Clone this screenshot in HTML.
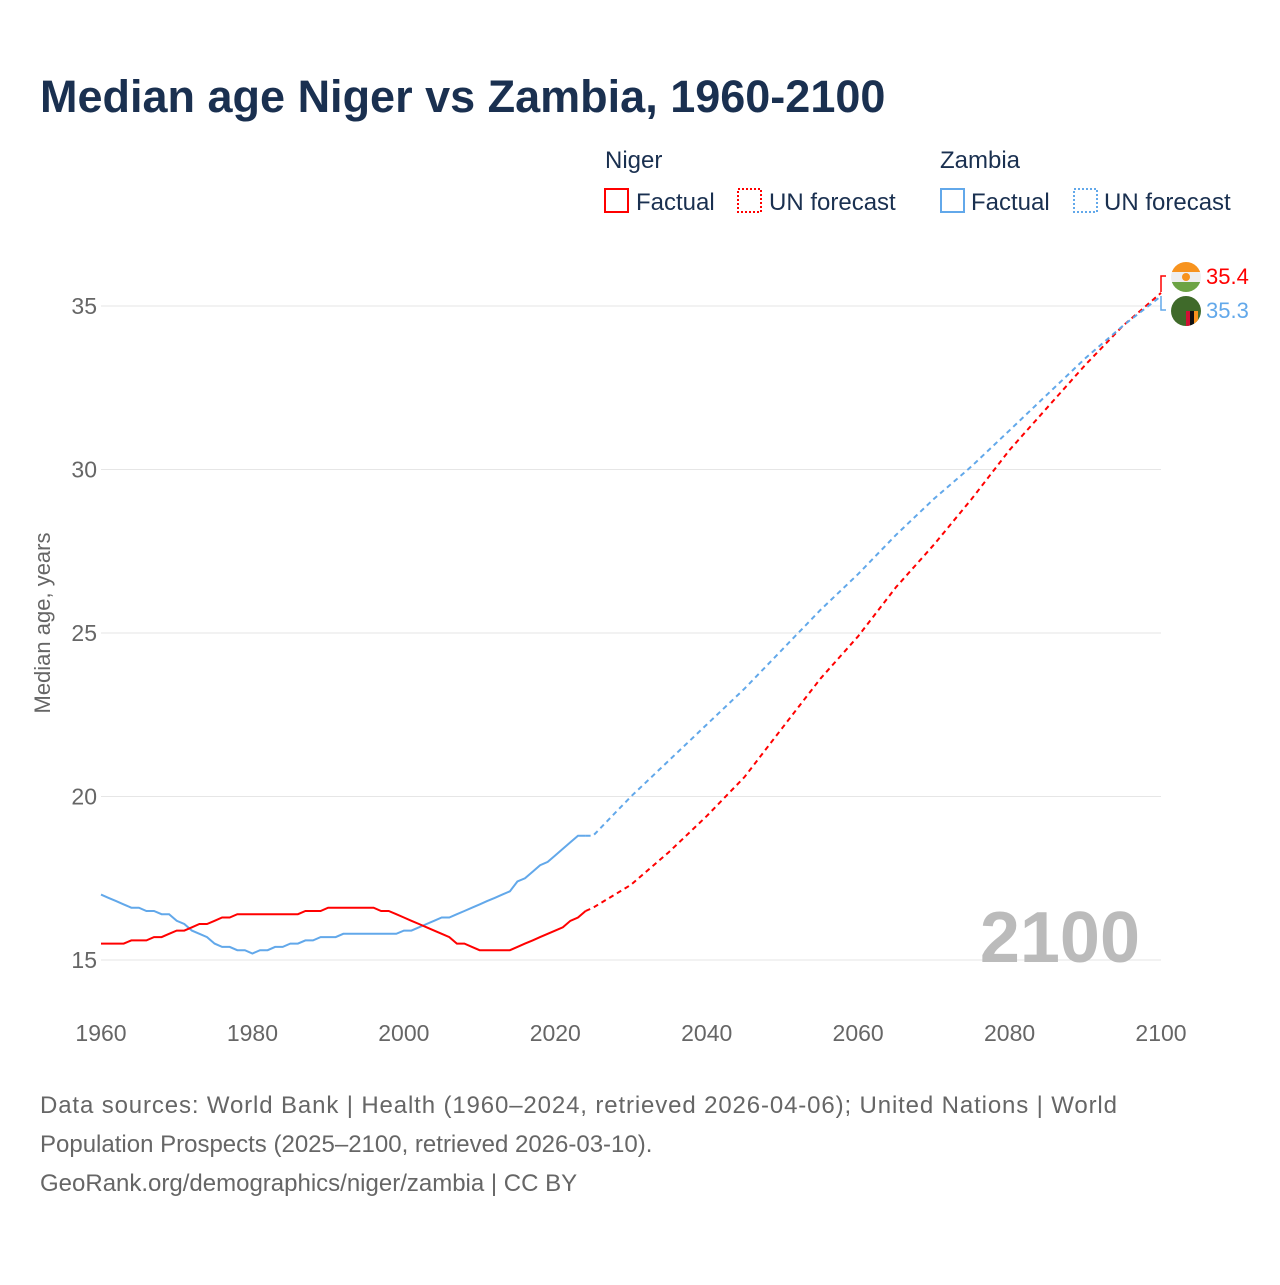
<!DOCTYPE html>
<html><head><meta charset="utf-8"><style>
body{margin:0;background:#fff;font-family:"Liberation Sans",sans-serif}
svg text{font-family:"Liberation Sans",sans-serif}
</style></head><body>
<svg width="1280" height="1280" xmlns="http://www.w3.org/2000/svg">
<text x="40" y="112" font-size="45" font-weight="bold" fill="#1a3050">Median age Niger vs Zambia, 1960-2100</text>
<g font-size="24" fill="#1a3050">
<text x="605" y="168">Niger</text>
<text x="940" y="168">Zambia</text>
<rect x="605" y="189" width="23" height="23" fill="none" stroke="#f00" stroke-width="2"/>
<text x="636" y="210">Factual</text>
<rect x="738" y="189" width="23" height="23" fill="none" stroke="#f00" stroke-width="2" stroke-dasharray="2,2"/>
<text x="769" y="210">UN forecast</text>
<rect x="941" y="189" width="23" height="23" fill="none" stroke="#62a8ea" stroke-width="2"/>
<text x="971" y="210">Factual</text>
<rect x="1074" y="189" width="23" height="23" fill="none" stroke="#62a8ea" stroke-width="2" stroke-dasharray="2,2"/>
<text x="1104" y="210">UN forecast</text>
</g>
<g id="grid"></g>
<text x="1140" y="962" font-size="72" font-weight="bold" fill="#bbb" text-anchor="end">2100</text>
<text transform="translate(50,623) rotate(-90)" font-size="22" fill="#666" text-anchor="middle">Median age, years</text>
<g id="lines"></g>
<g>
<path d="M1161 292 V276 H1166" fill="none" stroke="#f00" stroke-width="1.5"/>
<path d="M1161 296 V310 H1166" fill="none" stroke="#62a8ea" stroke-width="1.5"/>
<g>
<clipPath id="cn"><circle cx="1186" cy="277" r="15"/></clipPath>
<g clip-path="url(#cn)"><rect x="1170" y="262" width="32" height="10" fill="#f7931e"/><rect x="1170" y="272" width="32" height="10" fill="#eee"/><rect x="1170" y="282" width="32" height="11" fill="#6ca344"/><circle cx="1186" cy="277" r="4" fill="#f7931e"/></g></g>
<g>
<clipPath id="cz"><circle cx="1186" cy="311" r="15"/></clipPath>
<g clip-path="url(#cz)"><rect x="1170" y="295" width="32" height="32" fill="#3f6a2a"/><rect x="1186" y="311" width="4" height="16" fill="#d21034"/><rect x="1190" y="311" width="4" height="16" fill="#111"/><rect x="1194" y="311" width="4" height="16" fill="#f7931e"/></g></g>
<text x="1206" y="284" font-size="22" fill="#f00">35.4</text>
<text x="1206" y="318" font-size="22" fill="#62a8ea">35.3</text>
</g>
<g font-size="24" fill="#666">
<text x="40" y="1113" textLength="1077">Data sources: World Bank | Health (1960–2024, retrieved 2026-04-06); United Nations | World</text>
<text x="40" y="1152">Population Prospects (2025–2100, retrieved 2026-03-10).</text>
<text x="40" y="1191">GeoRank.org/demographics/niger/zambia | CC BY</text>
</g>
</svg>
<script>
const xTicks=[1960,1980,2000,2020,2040,2060,2080,2100];
const yTicks=[15,20,25,30,35];
const factYears=[];for(let y=1960;y<=2024;y++)factYears.push(y);
const nigerFact=[15.5,15.5,15.5,15.5,15.6,15.6,15.6,15.7,15.7,15.8,15.9,15.9,16.0,16.1,16.1,16.2,16.3,16.3,16.4,16.4,16.4,16.4,16.4,16.4,16.4,16.4,16.4,16.5,16.5,16.5,16.6,16.6,16.6,16.6,16.6,16.6,16.6,16.5,16.5,16.4,16.3,16.2,16.1,16.0,15.9,15.8,15.7,15.5,15.5,15.4,15.3,15.3,15.3,15.3,15.3,15.4,15.5,15.6,15.7,15.8,15.9,16.0,16.2,16.3,16.5];
const zambiaFact=[17.0,16.9,16.8,16.7,16.6,16.6,16.5,16.5,16.4,16.4,16.2,16.1,15.9,15.8,15.7,15.5,15.4,15.4,15.3,15.3,15.2,15.3,15.3,15.4,15.4,15.5,15.5,15.6,15.6,15.7,15.7,15.7,15.8,15.8,15.8,15.8,15.8,15.8,15.8,15.8,15.9,15.9,16.0,16.1,16.2,16.3,16.3,16.4,16.5,16.6,16.7,16.8,16.9,17.0,17.1,17.4,17.5,17.7,17.9,18.0,18.2,18.4,18.6,18.8,18.8];
const fcYears=[2024,2025,2030,2035,2040,2045,2050,2055,2060,2065,2070,2075,2080,2085,2090,2095,2100];
const nigerFc=[16.5,16.6,17.3,18.3,19.4,20.6,22.1,23.6,24.9,26.4,27.7,29.1,30.6,31.9,33.2,34.4,35.4];
const zambiaFc=[18.8,18.8,20.0,21.1,22.2,23.3,24.5,25.7,26.8,28.0,29.1,30.1,31.2,32.3,33.4,34.4,35.3];
const X=y=>101+(y-1960)*1060/140;
const Y=v=>960-(v-15)*654/20;
const NS='http://www.w3.org/2000/svg';
const g=document.getElementById('grid');
yTicks.forEach(t=>{
 const l=document.createElementNS(NS,'line');
 l.setAttribute('x1',101);l.setAttribute('x2',1161);l.setAttribute('y1',Y(t));l.setAttribute('y2',Y(t));
 l.setAttribute('stroke','#e6e6e6');
 
 
 g.appendChild(l);
 const tx=document.createElementNS(NS,'text');
 tx.setAttribute('x',97);tx.setAttribute('y',Y(t)+8);tx.setAttribute('text-anchor','end');tx.setAttribute('font-size','23');tx.setAttribute('fill','#666');
 tx.textContent=t;
 
 
 g.appendChild(tx);
});
xTicks.forEach(t=>{
 const tx=document.createElementNS(NS,'text');
 tx.setAttribute('x',X(t));tx.setAttribute('y',1041);tx.setAttribute('text-anchor','middle');tx.setAttribute('font-size','23');tx.setAttribute('fill','#666');
 tx.textContent=t;
 
 
 g.appendChild(tx);
});
const L=document.getElementById('lines');
function line(xs,vs,color,dash,name){
 const p=document.createElementNS(NS,'path');
 p.setAttribute('d',xs.map((x,i)=>(i?'L':'M')+X(x).toFixed(1)+' '+Y(vs[i]).toFixed(1)).join(''));
 p.setAttribute('fill','none');p.setAttribute('stroke',color);p.setAttribute('stroke-width','2');
 if(dash)p.setAttribute('stroke-dasharray','5,4');
 
 
 L.appendChild(p);
}
line(factYears,zambiaFact,'#62a8ea',false,'zambia-factual-line');
line(factYears,nigerFact,'#f00',false,'niger-factual-line');
line(fcYears,nigerFc,'#f00',true,'niger-forecast-line');
line(fcYears,zambiaFc,'#62a8ea',true,'zambia-forecast-line');
</script>
</body></html>
